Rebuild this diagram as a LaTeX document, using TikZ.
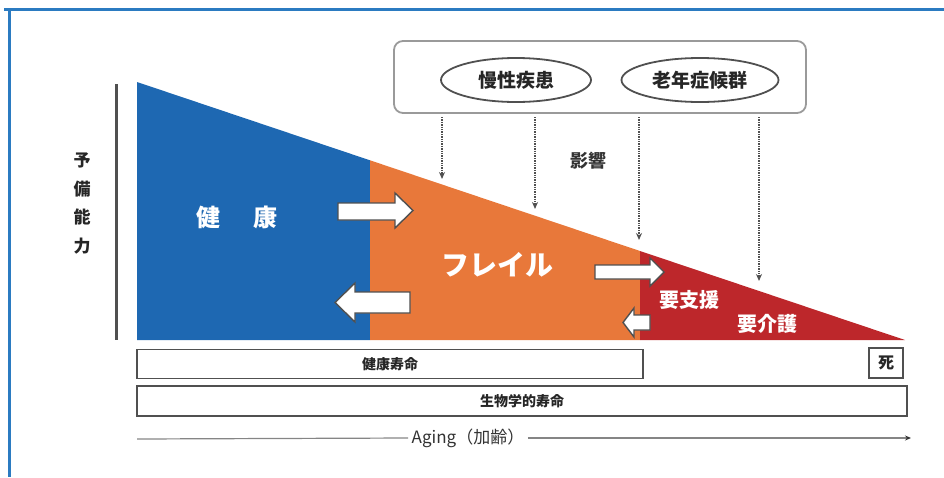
\documentclass[tikz,border=0pt]{standalone}
\usepackage{fontspec}
\newfontfamily\jp{Noto Sans CJK JP}
\usetikzlibrary{shapes.geometric,arrows.meta}
\definecolor{frameblue}{HTML}{2B7BC1}
\definecolor{healthblue}{HTML}{1E68B2}
\definecolor{frailorange}{HTML}{E8783A}
\definecolor{carered}{HTML}{BD272B}
\definecolor{linegray}{HTML}{505050}
\definecolor{boxgray}{HTML}{9A9A9A}
\begin{document}
\begin{tikzpicture}[x=1pt,y=-1pt,font=\jp,
  blockarrow/.style={fill=white,draw=linegray,line width=1.4pt,line join=miter},
  oval/.style={ellipse,draw=linegray,line width=1.8pt,inner sep=0pt,minimum width=150pt,minimum height=44pt,font=\jp\bfseries\fontsize{19}{19}\selectfont,text=black!85},
  effect/.style={dash pattern=on 1.3pt off 1.1pt,draw=linegray,line width=1.4pt,-{Stealth[length=7pt,width=6pt,open,fill=white]}},
  whitelabel/.style={text=white,font=\jp\bfseries\fontsize{#1}{#1}\selectfont},
  spanbox/.style={draw=linegray,line width=1.6pt,fill=white,inner sep=0pt},
  spanlabel/.style={font=\jp\bfseries\fontsize{14}{14}\selectfont,text=black!85}]
\useasboundingbox (0,0) rectangle (944,477);
% frame
\draw[frameblue,line width=3pt] (4,9) -- (944,9);
\draw[frameblue,line width=3pt] (9,9) -- (9,477);
% triangle
\coordinate (apex) at (137,82);
\coordinate (hb) at (370,160.3);
\coordinate (ho) at (640,251);
\coordinate (tip) at (905,340);
\fill[healthblue] (apex) -- (hb) -- (370,340) -- (137,340) -- cycle;
\fill[frailorange] (hb) -- (ho) -- (640,340) -- (370,340) -- cycle;
\fill[carered] (ho) -- (tip) -- (640,340) -- cycle;
% axis
\draw[linegray,line width=3pt] (116,84) -- (116,340);
\node[font=\jp\bfseries\fontsize{17}{17}\selectfont,text=black!85] (y1) at (82,160) {予};
\node[font=\jp\bfseries\fontsize{17}{17}\selectfont,text=black!85] (y2) at (82,189) {備};
\node[font=\jp\bfseries\fontsize{17}{17}\selectfont,text=black!85] (y3) at (82,217) {能};
\node[font=\jp\bfseries\fontsize{17}{17}\selectfont,text=black!85] (y4) at (82,246) {力};
% top box
\node[draw=boxgray,line width=1.8pt,rounded corners=9pt,minimum width=412pt,minimum height=72pt,inner sep=0pt] (top) at (600,77) {};
\node[oval] (chronic) at (516,80) {慢性疾患};
\node[oval,minimum width=157pt] (geri) at (700,80) {老年症候群};
% influence arrows
\coordinate (s1) at (442,117); \coordinate (t1) at (442,179);
\coordinate (s2) at (535,117); \coordinate (t2) at (535,209);
\coordinate (s3) at (639,117); \coordinate (t3) at (639,240);
\coordinate (s4) at (759,117); \coordinate (t4) at (759,281);
\draw[effect] (s1) -- (t1);
\draw[effect] (s2) -- (t2);
\draw[effect] (s3) -- (t3);
\draw[effect] (s4) -- (t4);
\node[font=\jp\bfseries\fontsize{18}{18}\selectfont,text=black!80] (infl) at (588,161) {影響};
% labels in triangle
\node[whitelabel=24] (h1) at (208,217) {健};
\node[whitelabel=24] (h2) at (265,217) {康};
\node[whitelabel=28] (frail) at (497,265) {フレイル};
\node[whitelabel=20] (supp) at (689,300) {要支援};
\node[whitelabel=20] (care) at (767,324) {要介護};
% block arrows
\draw[blockarrow] (338,203) -- (395,203) -- (395,193) -- (413,210.5) -- (395,228) -- (395,220) -- (338,220) -- cycle;
\draw[blockarrow] (410,292) -- (355,292) -- (355,283) -- (335,302.5) -- (355,322) -- (355,313) -- (410,313) -- cycle;
\draw[blockarrow] (595,265) -- (650,265) -- (650,258) -- (664,272) -- (650,286) -- (650,279) -- (595,279) -- cycle;
\draw[blockarrow] (650,315) -- (634,315) -- (634,308) -- (623,322.5) -- (634,337) -- (634,330) -- (650,330) -- cycle;
% span boxes
\node[spanbox,minimum width=506pt,minimum height=29pt] (healthy) at (390,364) {};
\node[spanlabel] at (healthy) {健康寿命};
\node[spanbox,minimum width=34pt,minimum height=30pt] (death) at (886,363) {};
\node[spanlabel,font=\jp\bfseries\fontsize{16}{16}\selectfont] at (death) {死};
\node[spanbox,minimum width=770pt,minimum height=30pt] (bio) at (522,401) {};
\node[spanlabel] at (bio) {生物学的寿命};
% aging
\node[font=\jp\fontsize{17}{17}\selectfont,text=black!80] (aging) at (468,438) {Aging（加齢）};
\coordinate (agestart) at (137,439);
\coordinate (ageend) at (911,438);
\draw[linegray!70,line width=1.2pt] (agestart) -- (aging.west);
\draw[linegray!70,line width=1.2pt,-{Stealth[length=6pt,width=5pt,color=black!80]}] (aging.east) -- (ageend);
\end{tikzpicture}
\end{document}
